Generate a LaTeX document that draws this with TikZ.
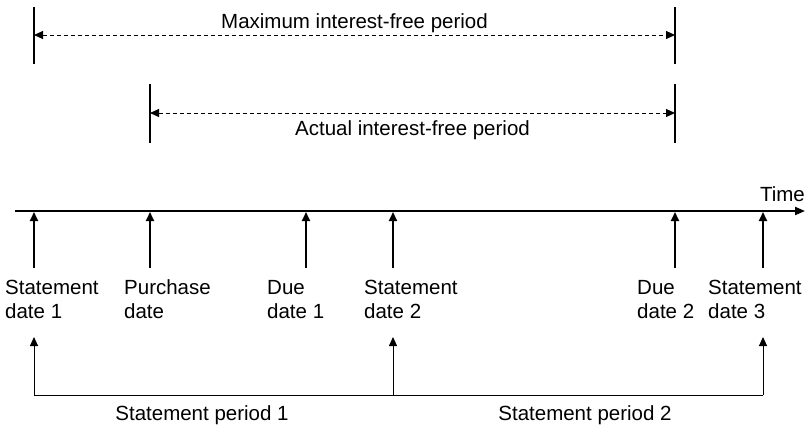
\documentclass[tikz,border=0pt]{standalone}
\usepackage{fontspec}
\setmainfont{Liberation Sans}
\usetikzlibrary{arrows.meta}
\begin{document}
\begin{tikzpicture}[x=1pt,y=-1pt,
  lbl/.style={inner sep=0pt, anchor=base west, align=left,
              font=\fontsize{20.5}{24}\selectfont},
  ttl/.style={inner sep=0pt, anchor=base,
              font=\fontsize{20.5}{24}\selectfont},
  axis/.style={line width=2pt, -{Triangle[length=10pt,width=8pt]}},
  tick/.style={line width=2pt, -{Triangle[length=9pt,width=8pt]}},
  bar/.style={line width=2.2pt},
  span/.style={line width=1pt, dash pattern=on 4pt off 3pt,
               {Triangle[length=9pt,width=8pt]}-{Triangle[length=9pt,width=8pt]}},
  brk/.style={line width=1pt},
  brkarrow/.style={line width=1pt, -{Triangle[length=9pt,width=8pt]}}]
\useasboundingbox (0,0) rectangle (812,426);

% interest-free periods
\coordinate (mxa) at (34,7);   \coordinate (mxb) at (34,64);
\coordinate (mya) at (675,7);  \coordinate (myb) at (675,64);
\coordinate (axa) at (150,84); \coordinate (axb) at (150,143);
\coordinate (aya) at (675,84); \coordinate (ayb) at (675,143);
\draw[bar] (mxa) -- (mxb);
\draw[bar] (mya) -- (myb);
\draw[bar] (axa) -- (axb);
\draw[bar] (aya) -- (ayb);
\coordinate (ms) at (34,35);  \coordinate (me) at (675,35);
\coordinate (as) at (150,113); \coordinate (ae) at (675,113);
\draw[span] (ms) -- (me);
\draw[span] (as) -- (ae);
\node[ttl] (maxlbl) at (354.5,28) {Maximum interest-free period};
\node[ttl] (actlbl) at (412.5,135) {Actual interest-free period};

% time axis
\coordinate (ax0) at (15,211);
\coordinate (ax1) at (805,211);
\draw[axis] (ax0) -- (ax1);
\node[inner sep=0pt, anchor=base east, font=\fontsize{20.5}{24}\selectfont] (time) at (805,201) {Time};

% event ticks
\foreach \n/\x in {1/34,2/150,3/306,4/393,5/675,6/763}{
  \coordinate (t\n) at (\x,212);
  \coordinate (b\n) at (\x,268);
  \draw[tick] (b\n) -- (t\n);
}

% event labels (anchored on the baseline of the second line)
\node[lbl] (l1) at (5,318)   {Statement\\date 1};
\node[lbl] (l2) at (124,318) {Purchase\\date};
\node[lbl] (l3) at (267,318) {Due\\date 1};
\node[lbl] (l4) at (364,318) {Statement\\date 2};
\node[lbl] (l5) at (637,318) {Due\\date 2};
\node[lbl] (l6) at (708,318) {Statement\\date 3};

% statement periods
\coordinate (c1) at (34,395);  \coordinate (u1) at (34,337);
\coordinate (c2) at (393,395); \coordinate (u2) at (393,337);
\coordinate (c3) at (763,395); \coordinate (u3) at (763,337);
\draw[brk] (c1) -- (c3);
\draw[brkarrow] (c1) -- (u1);
\draw[brkarrow] (c2) -- (u2);
\draw[brkarrow] (c3) -- (u3);
\node[ttl] (p1) at (202,420) {Statement period 1};
\node[ttl] (p2) at (585,420) {Statement period 2};
\end{tikzpicture}
\end{document}
